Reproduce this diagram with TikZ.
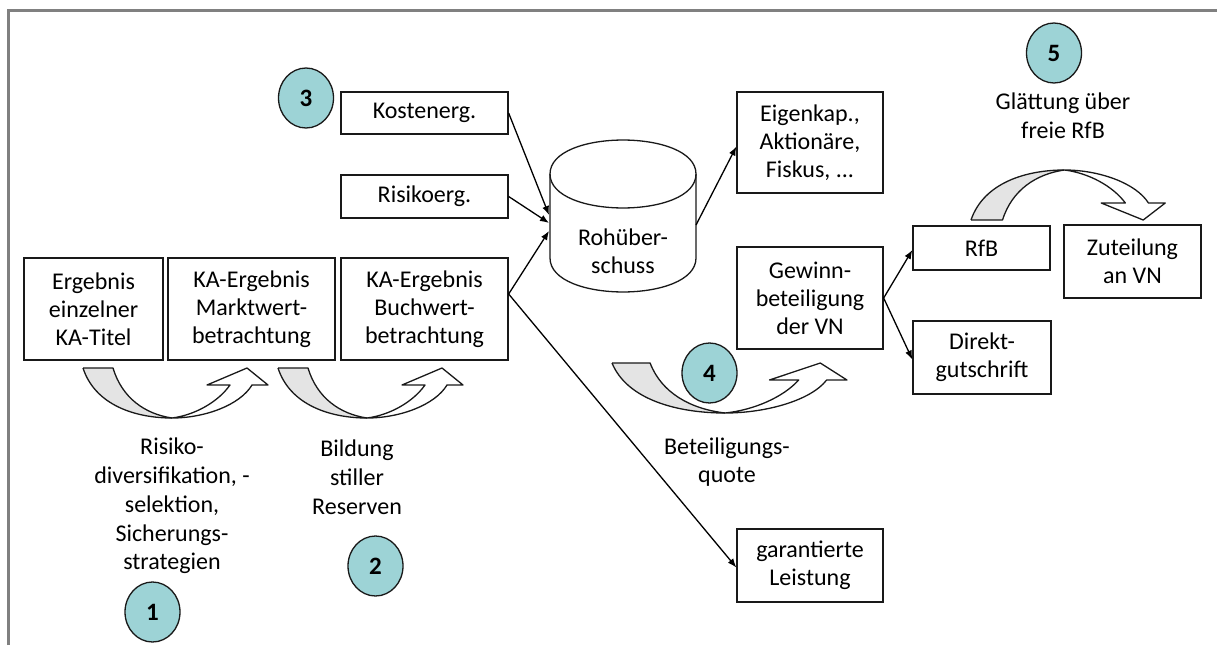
\documentclass[tikz,border=0pt]{standalone}
\usepackage{fontspec}
\setmainfont{Carlito}
\usetikzlibrary{arrows.meta,shapes.geometric}
\definecolor{tealc}{RGB}{157,211,214}
\definecolor{frameg}{RGB}{128,128,128}
\definecolor{lgray}{RGB}{228,228,228}
\newcommand\cbarrow{%
  \fill[lgray] (0,0) -- (30,0) .. controls (39,30) and (62,46) .. (89,50) .. controls (52,50) and (12,37) .. (0,0) -- cycle;
  \draw[bl] (0,0) -- (30,0) .. controls (39,30) and (62,46) .. (89,50);
  \draw[bl] (0,0) .. controls (12,37) and (52,50) .. (89,50);
  \draw[bl] (89,50) .. controls (112,47) and (135,34) .. (147,17) -- (124,17) -- (164,0) -- (185,17) -- (169,17) .. controls (157,37) and (122,50) .. (89,50);
}
\begin{document}
\begin{tikzpicture}[x=1pt,y=-1pt,
  box/.style={draw=black!90, line width=1.3pt, fill=white, inner sep=0pt, align=center, font=\fontsize{24}{28}\selectfont},
  num/.style={ellipse, draw=black!90, line width=1.3pt, fill=tealc, minimum width=55pt, minimum height=60pt, inner sep=0pt, font=\fontsize{25}{28}\selectfont\bfseries},
  lab/.style={align=center, inner sep=0pt, font=\fontsize{24}{28.8}\selectfont},
  arr/.style={-{Latex[length=9pt,width=7pt]}, line width=1.3pt},
  bl/.style={line width=1.3pt, line join=round, draw=black!90}]
\useasboundingbox (0,0) rectangle (1217,645);
\draw[frameg, line width=3pt] (8.5,645) -- (8.5,10.5) -- (1217,10.5);

% boxes
\node[box, minimum width=139pt, minimum height=102pt] (erg) at (93.5,309) {Ergebnis\\einzelner\\KA-Titel};
\node[box, minimum width=167pt, minimum height=102pt] (mw) at (251.5,309) {KA-Ergebnis\\Marktwert-\\betrachtung};
\node[box, minimum width=167pt, minimum height=102pt] (bw) at (424.5,309) {KA-Ergebnis\\Buchwert-\\betrachtung};
\node[box, minimum width=167pt, minimum height=42pt] (kost) at (424.5,113) {Kostenerg.};
\node[box, minimum width=167pt, minimum height=43pt] (risk) at (424.5,196.5) {Risikoerg.};
\node[box, minimum width=146pt, minimum height=101pt] (eigen) at (810,142.5) {Eigenkap.,\\Aktionäre,\\Fiskus, ...};
\node[box, minimum width=146pt, minimum height=102pt] (gew) at (810,298) {Gewinn-\\beteiligung\\der VN};
\node[box, minimum width=137pt, minimum height=44pt] (rfb) at (981.5,248) {RfB};
\node[box, minimum width=137pt, minimum height=73pt] (zut) at (1132.5,261.5) {Zuteilung\\an VN};
\node[box, minimum width=138pt, minimum height=73pt] (dir) at (982,357.5) {Direkt-\\gutschrift};
\node[box, minimum width=146pt, minimum height=73pt] (gar) at (810,565.5) {garantierte\\Leistung};

% cylinder
\draw[bl, fill=white] (550,174) -- (550,258) .. controls (550,303.3) and (696,303.3) .. (696,258) -- (696,174) .. controls (696,128.7) and (550,128.7) .. (550,174) -- cycle;
\draw[bl] (550,174) .. controls (550,219.3) and (696,219.3) .. (696,174);
\node[lab, font=\fontsize{24}{28}\selectfont] (roh) at (623,251) {Rohüber-\\schuss};
\coordinate (cyk) at (549,215);
\coordinate (cyr) at (549,223);
\coordinate (cyb) at (549,231);
\coordinate (cyo) at (696,225);

% connectors
\draw[arr] (kost.east) -- (cyk);
\draw[arr] (risk.east) -- (cyr);
\draw[arr] ([yshift=15pt]bw.east) -- (cyb);
\draw[arr] ([yshift=15pt]bw.east) -- ([yshift=-2pt]gar.west);
\draw[arr] (cyo) -- ([yshift=-4pt]eigen.west);
\draw[arr] (gew.east) -- ([yshift=-2pt]rfb.west);
\draw[arr] (gew.east) -- ([yshift=-2pt]dir.west);

% block arrows
\begin{scope}[shift={(83,368)}] \cbarrow \end{scope}
\begin{scope}[shift={(278,368)}] \cbarrow \end{scope}
\begin{scope}[shift={(612,363)}, xscale=1.27] \cbarrow \end{scope}
\begin{scope}[shift={(971,220)}, xscale=1.05, yscale=-1] \cbarrow \end{scope}

% labels
\node[lab] (l1) at (172,506) {Risiko-\\diversifikation, -\\selektion,\\Sicherungs-\\strategien};
\node[lab] (l2) at (357,477) {Bildung\\stiller\\Reserven};
\node[lab] (l4) at (727,462) {Beteiligungs-\\quote};
\node[lab] (l5) at (1063,116) {Glättung über\\freie RfB};

% numbers
\node[num] (n1) at (152.5,612) {1};
\node[num] (n2) at (375.5,566) {2};
\node[num] (n3) at (306,98) {3};
\node[num] (n4) at (709.5,373) {4};
\node[num] (n5) at (1054,53) {5};
\end{tikzpicture}
\end{document}
